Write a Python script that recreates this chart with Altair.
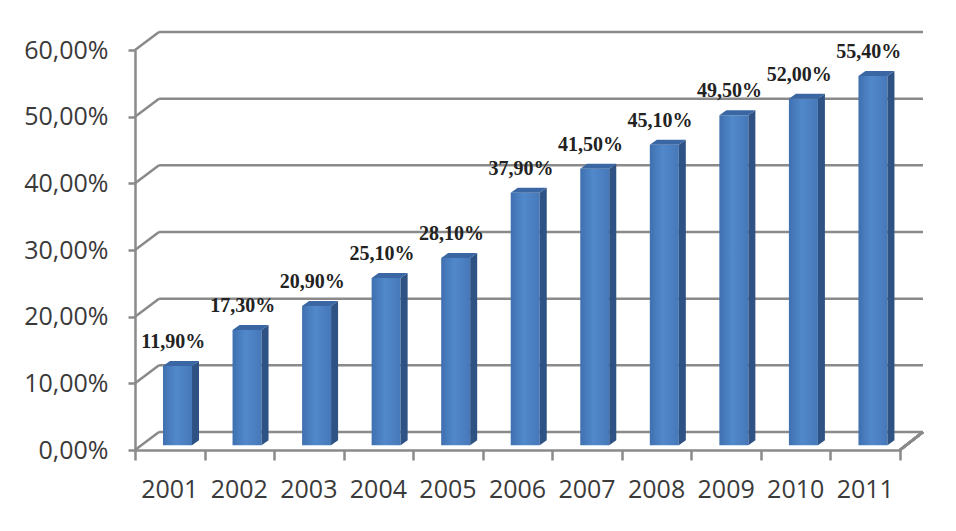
import altair as alt
import pandas as pd

# ---- data ----
years = ["2001", "2002", "2003", "2004", "2005", "2006", "2007", "2008", "2009", "2010", "2011"]
values = [11.9, 17.3, 20.9, 25.1, 28.1, 37.9, 41.5, 45.1, 49.5, 52.0, 55.4]
y_ticks = [0, 10, 20, 30, 40, 50, 60]

# ---- geometry (style) ----
W, H = 765, 400
N = len(years)
PX = W / N            # px per category unit
PY = H / 60.0         # px per percent unit
LIFT = 0.7            # bars sit slightly behind the front plane
L = 28 / PX           # front face left inside band
R = 57 / PX           # front face right inside band
SW = 7 / PX           # side depth (x)
SDY = 5 / PY          # side depth (y)

bars = pd.DataFrame({"year": years, "idx": list(range(N)), "value": values})
bars["left"] = bars["idx"] + L
bars["right"] = bars["idx"] + R
bars["base"] = LIFT
bars["top"] = bars["value"] + LIFT
bars["label"] = [f"{v:.2f}".replace(".", ",") + "%" for v in values]
bars["cx"] = bars["idx"] + 0.5
bars["lx"] = bars["idx"] + 0.55

side_rows = []
top_rows = []
for i, v in enumerate(values):
    t = v + LIFT
    side_rows.append({"idx": i, "x": i + R, "y": t, "y2": LIFT})
    side_rows.append({"idx": i, "x": i + R + SW, "y": t + SDY, "y2": LIFT + SDY})
    top_rows.append({"idx": i, "x": i + L, "y": t, "y2": t})
    top_rows.append({"idx": i, "x": i + L + SW, "y": t + SDY, "y2": t})
    top_rows.append({"idx": i, "x": i + R, "y": t + SDY, "y2": t})
    top_rows.append({"idx": i, "x": i + R + SW, "y": t + SDY, "y2": t + SDY})
side = pd.DataFrame(side_rows)
topf = pd.DataFrame(top_rows)
grid = pd.DataFrame({"v": y_ticks})

xs = alt.Scale(domain=[0, N], nice=False, zero=False)
ys = alt.Scale(domain=[0, 60], nice=False)
AX = alt.Axis(title="", values=list(range(N + 1)), labels=False, tickSize=10)
AY = alt.Axis(title="", values=y_ticks, tickSize=7, labelPadding=20,
              labelExpr="replace(format(datum.value, '.2f'), '.', ',') + '%'")
GRAY = "#8a8a8a"
DX, DY = 24, 18

back = alt.Chart(grid).mark_rule(color=GRAY, strokeWidth=2.5, xOffset=DX, x2Offset=DX - 1,
                                  yOffset=-DY, y2Offset=-DY).encode(
    x=alt.datum(0, scale=xs, axis=AX), x2=alt.datum(N),
    y=alt.Y("v:Q", scale=ys, axis=AY), y2="v:Q")

conn = alt.Chart(grid).mark_rule(color=GRAY, strokeWidth=2.5, x2Offset=DX, y2Offset=-DY).encode(
    x=alt.datum(0, scale=xs, axis=AX), x2=alt.datum(0),
    y=alt.Y("v:Q", scale=ys, axis=AY), y2="v:Q")

floor_r = alt.Chart(grid).mark_rule(color=GRAY, strokeWidth=2.5, x2Offset=DX - 1, y2Offset=-DY).encode(
    x=alt.datum(N, scale=xs, axis=AX), x2=alt.datum(N),
    y=alt.datum(0, scale=ys, axis=AY), y2=alt.datum(0))

front = alt.Chart(bars).mark_rect(
    color=alt.Gradient(gradient="linear", x1=0, x2=1, y1=0, y2=0,
                       stops=[alt.GradientStop(color="#3f70b0", offset=0),
                              alt.GradientStop(color="#5189cb", offset=0.45),
                              alt.GradientStop(color="#4678b9", offset=1)])
).encode(
    x=alt.X("left:Q", scale=xs, axis=AX), x2="right:Q",
    y=alt.Y("top:Q", scale=ys, axis=AY), y2="base:Q")

side_l = alt.Chart(side).mark_area(color="#2e5283", interpolate="linear").encode(
    x=alt.X("x:Q", scale=xs, axis=AX), y=alt.Y("y:Q", scale=ys, axis=AY), y2="y2:Q",
    detail="idx:N")

top_l = alt.Chart(topf).mark_area(color="#3a67a3", interpolate="linear").encode(
    x=alt.X("x:Q", scale=xs, axis=AX), y=alt.Y("y:Q", scale=ys, axis=AY), y2="y2:Q",
    detail="idx:N")

vlabels = alt.Chart(bars).mark_text(font="Liberation Serif", fontWeight="bold", fontSize=20,
                                    color="#222222", baseline="alphabetic", dy=-18).encode(
    x=alt.X("lx:Q", scale=xs, axis=AX), y=alt.Y("top:Q", scale=ys, axis=AY), text="label:N")

xlabels = alt.Chart(bars).mark_text(font="Open Sans", fontSize=25, color="#3a3a3a",
                                    baseline="alphabetic").encode(
    x=alt.X("cx:Q", scale=xs, axis=AX), y=alt.value(448), text="year:N")

chart = alt.layer(back, conn, floor_r, front, side_l, top_l, vlabels, xlabels).properties(
    width=W, height=H,
    padding={"left": 127, "top": 42, "right": 48, "bottom": 73},
    autosize=alt.AutoSizeParams(type="none"),
    background="white",
).configure_view(strokeWidth=0).configure_axis(
    domainColor=GRAY, domainWidth=2.5, tickColor=GRAY, tickWidth=2.5, grid=False,
    labelFont="Open Sans", labelFontSize=25, labelColor="#3a3a3a")

chart.save("out.html", embed_options={"renderer": "svg", "actions": False})
